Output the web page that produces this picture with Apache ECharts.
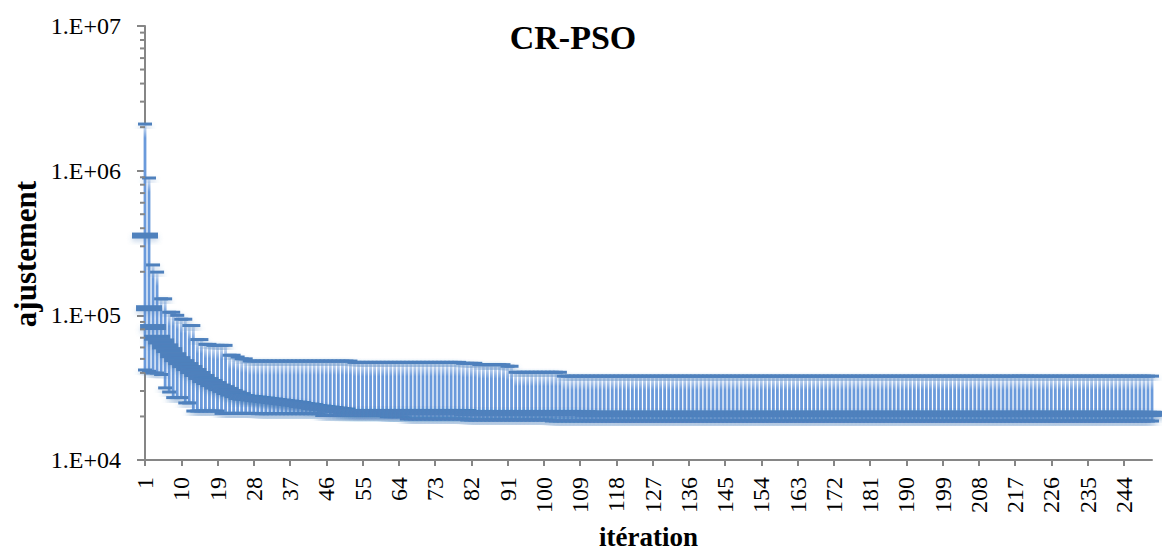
<!DOCTYPE html>
<html>
<head>
<meta charset="utf-8">
<script src="https://cdn.jsdelivr.net/npm/echarts@6/dist/echarts.min.js"></script>
<style>html,body{margin:0;padding:0;background:#fff}#c{width:1162px;height:554px}</style>
</head>
<body>
<div id="c"></div>
<script>
// ---- data ----
var titleText = 'CR-PSO';
var xName = 'itération';
var yName = 'ajustement';
var nIter = 251;
var categories = [];
for (var k = 1; k <= nIter; k++) categories.push(String(k));
var xLabelStep = 9;
var yTicks = [10000, 100000, 1000000, 10000000];

var maxVals = [
2100000,890000,223000,199000,130000,130000,105000,105000,100000,94000,
94000,85000,85000,68000,68000,63000,63000,62000,62000,62000,
62000,53000,53000,51500,50000,50000,48300,48300,48300,48300,
48300,48300,48300,48300,48300,48300,48300,48300,48300,48300,
48300,48300,48300,48300,48300,48300,48300,48300,48300,48300,
48300,48300,47300,47300,47300,47300,47300,47300,47300,47300,
47300,47300,47300,47300,47300,47300,47300,47300,47300,47300,
47300,47300,47300,47300,47300,47300,47300,47300,47300,46600,
46600,46600,46600,45600,45600,45600,45600,45600,45600,45600,
44400,44400,40400,40400,40400,40400,40400,40400,40400,40400,
40400,40400,40400,40400,38000,38000,38000,38000,38000,38000,
38000,38000,38000,38000,38000,38000,38000,38000,38000,38000,
38000,38000,38000,38000,38000,38000,38000,38000,38000,38000,
38000,38000,38000,38000,38000,38000,38000,38000,38000,38000,
38000,38000,38000,38000,38000,38000,38000,38000,38000,38000,
38000,38000,38000,38000,38000,38000,38000,38000,38000,38000,
38000,38000,38000,38000,38000,38000,38000,38000,38000,38000,
38000,38000,38000,38000,38000,38000,38000,38000,38000,38000,
38000,38000,38000,38000,38000,38000,38000,38000,38000,38000,
38000,38000,38000,38000,38000,38000,38000,38000,38000,38000,
38000,38000,38000,38000,38000,38000,38000,38000,38000,38000,
38000,38000,38000,38000,38000,38000,38000,38000,38000,38000,
38000,38000,38000,38000,38000,38000,38000,38000,38000,38000,
38000,38000,38000,38000,38000,38000,38000,38000,38000,38000,
38000,38000,38000,38000,38000,38000,38000,38000,38000,38000,
38000
];

var meanVals = [
356000,112000,83000,70000,66000,61000,57500,53000,49800,47500,
45300,43200,41200,39300,37500,35700,34600,33500,32200,31400,
30500,29500,28800,28100,27250,26950,26830,26600,26400,26200,
26000,25800,25570,25370,25170,24970,24770,24570,24380,23990,
23800,23620,23240,23060,22880,22700,22520,22340,22160,21990,
21460,21460,21460,21460,21460,21460,21460,21460,21460,21460,
21460,21460,21460,21460,21460,21460,21460,21460,21460,21460,
21460,21460,21460,21460,21460,21460,21460,21460,21460,21460,
21130,21130,21130,21130,21130,21130,21130,21130,21130,21130,
21130,21130,21130,21130,21130,21130,21130,21130,21130,21130,
21130,21130,21130,21130,21130,21130,21130,21130,21130,21130,
20860,20860,20860,20860,20860,20860,20860,20860,20860,20860,
20860,20860,20860,20860,20860,20860,20860,20860,20860,20860,
20860,20860,20860,20860,20860,20860,20860,20860,20860,20860,
20860,20860,20860,20860,20860,20860,20860,20860,20860,20860,
20860,20860,20860,20860,20860,20860,20860,20860,20860,20860,
20860,20860,20860,20860,20860,20860,20860,20860,20860,20860,
20860,20860,20860,20860,20860,20860,20860,20860,20860,20860,
20860,20860,20860,20860,20860,20860,20860,20860,20860,20860,
20860,20860,20860,20860,20860,20860,20860,20860,20860,20860,
20860,20860,20860,20860,20860,20860,20860,20860,20860,20860,
20860,20860,20860,20860,20860,20860,20860,20860,20860,20860,
20860,20860,20860,20860,20860,20860,20860,20860,20860,20860,
20860,20860,20860,20860,20860,20860,20860,20860,20860,20860,
20860,20860,20860,20860,20860,20860,20860,20860,20860,20860,
20860
];

var minVals = [
41900,41000,39900,39900,39000,31500,29500,27000,27000,27000,
24800,24800,21800,21800,21800,21800,21800,21800,21800,21000,
21000,21000,21000,21000,21000,21000,21000,21000,20900,20900,
20900,20900,20900,20900,20900,20900,20900,20900,20900,20900,
20900,20900,20900,20900,20300,20300,20300,20300,20300,20300,
20300,20300,20300,20300,20300,20300,20300,20300,20300,20300,
19900,19900,19900,19900,19900,19200,19200,19200,19200,19200,
19200,19200,19200,19200,19200,19200,19200,19200,19200,19200,
18900,18900,18900,18900,18900,18900,18900,18900,18900,18900,
18900,18900,18900,18900,18900,18900,18900,18900,18900,18900,
18900,18600,18600,18600,18600,18600,18600,18600,18600,18600,
18600,18600,18600,18600,18600,18600,18600,18600,18600,18600,
18600,18600,18600,18600,18600,18600,18600,18600,18600,18600,
18600,18600,18600,18600,18600,18600,18600,18600,18600,18600,
18600,18600,18600,18600,18600,18600,18600,18600,18600,18600,
18600,18600,18600,18600,18600,18600,18600,18600,18600,18600,
18600,18600,18600,18600,18600,18600,18600,18600,18600,18600,
18600,18600,18600,18600,18600,18600,18600,18600,18600,18600,
18600,18600,18600,18600,18600,18600,18600,18600,18600,18600,
18600,18600,18600,18600,18600,18600,18600,18600,18600,18600,
18600,18600,18600,18600,18600,18600,18600,18600,18600,18600,
18600,18600,18600,18600,18600,18600,18600,18600,18600,18600,
18600,18600,18600,18600,18600,18600,18600,18600,18600,18600,
18600,18600,18600,18600,18600,18600,18600,18600,18600,18600,
18600,18600,18600,18600,18600,18600,18600,18600,18600,18600,
18600
];

// log minor ticks (2..9 within each decade)
var minorTickVals = [];
for (var d = 0; d < yTicks.length - 1; d++) {
  for (var m = 2; m <= 9; m++) minorTickVals.push(m * yTicks[d]);
}

// ---- build ----
var FONT = "'Times New Roman','Liberation Serif',serif";
var BLUE = '#4F81BD';
var AXIS = '#868686';

var rows = [];
for (var i = 0; i < nIter; i++) rows.push([i, minVals[i], maxVals[i], meanVals[i]]);

var chart = echarts.init(document.getElementById('c'), null, {renderer: 'svg'});

function renderLines(params, api) {
  var i = api.value(0);
  var lo = api.coord([i, api.value(1)]);
  var hi = api.coord([i, api.value(2)]);
  var grad = new echarts.graphic.LinearGradient(0, hi[1], 0, hi[1] + 14, [
    {offset: 0, color: '#E2EBF8'}, {offset: 1, color: '#6A9ADB'}
  ], true);
  return {type: 'line', shape: {x1: lo[0], y1: hi[1], x2: lo[0], y2: lo[1]},
          style: {stroke: grad, lineWidth: 2.8}};
}
function renderCaps(params, api) {
  var i = api.value(0);
  var lo = api.coord([i, api.value(1)]);
  var hi = api.coord([i, api.value(2)]);
  var st = {fill: BLUE, shadowColor: 'rgba(79,129,189,0.35)', shadowBlur: 5, shadowOffsetY: 3};
  return {type: 'group', children: [
    {type: 'rect', shape: {x: hi[0] - 7, y: hi[1] - 1.5, width: 14, height: 3}, style: st},
    {type: 'rect', shape: {x: lo[0] - 7, y: lo[1] - 1.5, width: 14, height: 3}, style: st}
  ]};
}
function renderMean(params, api) {
  var i = api.value(0);
  var p = api.coord([i, api.value(3)]);
  return {type: 'rect', shape: {x: p[0] - 13, y: p[1] - 3, width: 26, height: 6},
          style: {fill: BLUE, shadowColor: 'rgba(79,129,189,0.3)', shadowBlur: 5, shadowOffsetY: 3}};
}
function renderMinor(params, api) {
  var p = api.coord([0, api.value(1)]);
  return {type: 'line', shape: {x1: p[0] - 5, y1: p[1], x2: p[0], y2: p[1]},
          style: {stroke: AXIS, lineWidth: 2}};
}

chart.setOption({
  animation: false,
  backgroundColor: '#fff',
  title: {text: titleText, left: 568, top: 15, textAlign: 'center',
          textStyle: {fontFamily: FONT, fontWeight: 'bold', fontSize: 34, color: '#000'}},
  graphic: [{
    type: 'text', x: 25, y: 254, rotation: Math.PI / 2,
    style: {text: yName, fontFamily: FONT, fontWeight: 'bold', fontSize: 31, fill: '#000',
            align: 'center', verticalAlign: 'middle'}
  }],
  grid: {left: 145, right: 10, top: 26, bottom: 94, containLabel: false, outerBoundsMode: 'none'},
  xAxis: {
    type: 'category', data: categories, boundaryGap: false,
    axisLine: {lineStyle: {color: AXIS, width: 2}},
    axisTick: {interval: xLabelStep - 1, length: 6, lineStyle: {color: AXIS, width: 2}},
    axisLabel: {show: true, interval: xLabelStep - 1, rotate: 90, margin: 17,
                fontFamily: FONT, fontSize: 24, color: '#000'},
    splitLine: {show: false},
    name: xName, nameLocation: 'middle', nameGap: 63,
    nameTextStyle: {fontFamily: FONT, fontWeight: 'bold', fontSize: 27, color: '#000'}
  },
  yAxis: {
    type: 'log', logBase: 10, min: yTicks[0], max: yTicks[yTicks.length - 1],
    axisLine: {show: true, lineStyle: {color: AXIS, width: 2}},
    axisTick: {show: true, length: 8, lineStyle: {color: AXIS, width: 2}},
    splitLine: {show: false},
    axisLabel: {
      fontFamily: FONT, fontSize: 24, color: '#000', margin: 24,
      formatter: function (v) {
        var e = Math.round(Math.log(v) / Math.LN10);
        return '1.E+' + (e < 10 ? '0' + e : e);
      }
    }
  },
  series: [
    {type: 'custom', name: 'minor', renderItem: renderMinor, silent: true, clip: false,
     data: minorTickVals.map(function (v) { return [0, v]; }), encode: {x: 0, y: 1}, z: 5},
    {type: 'custom', name: 'range', renderItem: renderLines, data: rows, clip: false,
     encode: {x: 0, y: [1, 2]}, z: 1},
    {type: 'custom', name: 'caps', renderItem: renderCaps, data: rows, clip: false,
     encode: {x: 0, y: [1, 2]}, z: 2},
    {type: 'custom', name: 'mean', renderItem: renderMean, data: rows, clip: false,
     encode: {x: 0, y: 3}, z: 3}
  ]
});
</script>
</body>
</html>
